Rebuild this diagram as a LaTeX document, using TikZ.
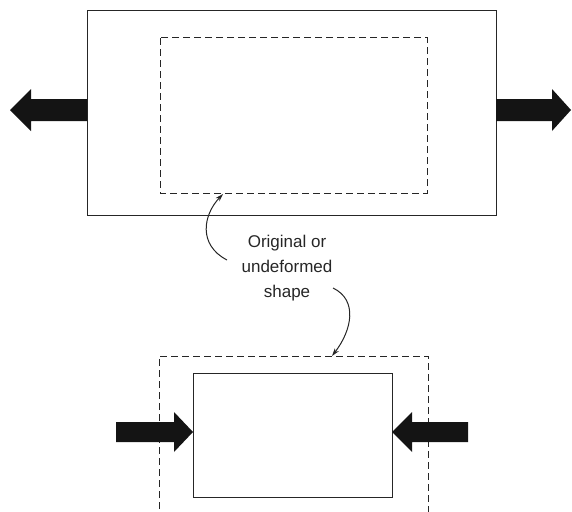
\documentclass[tikz,border=0pt]{standalone}
\usepackage{fontspec}
\setmainfont{Liberation Sans}
\usetikzlibrary{arrows.meta}
\definecolor{inkline}{rgb}{0.15,0.15,0.15}
\definecolor{forcefill}{rgb}{0.08,0.08,0.08}

\begin{document}
\begin{tikzpicture}[x=1pt, y=-1pt,
    body/.style={draw=inkline, line width=1pt},
    outline/.style={draw=inkline, line width=1pt, dash pattern=on 7pt off 4pt},
    force/.style={fill=forcefill},
    pointer/.style={draw=inkline, line width=1pt, -{Stealth[length=8pt, width=5pt]}},
    every node/.style={font=\fontsize{17}{25}\selectfont, text=inkline}]
  \useasboundingbox (0,0) rectangle (572,511);
  % Tension: stretched body over original shape
  \draw[body] (87,11) rectangle (496,215);
  \draw[outline] (160,38) rectangle (427,193);
  \fill[force] (87,99) -- (31,99) -- (31,89) -- (10,110) -- (31,131) -- (31,121) -- (87,121) -- cycle;
  \fill[force] (496,99) -- (552,99) -- (552,89) -- (571,110) -- (552,131) -- (552,121) -- (496,121) -- cycle;
  % Label with pointers to both original shapes
  \node[align=center] (orig) at (287,268) {Original or\\undeformed\\shape};
  \coordinate (upstart) at (227,260);
  \coordinate (uptip) at (223,194);
  \coordinate (downstart) at (333,288);
  \coordinate (downtip) at (332,356);
  \draw[pointer] (upstart) .. controls (198,245) and (203,215) .. (uptip);
  \draw[pointer] (downstart) .. controls (358,300) and (352,330) .. (downtip);
  % Compression: squeezed body inside original shape
  \draw[outline] (159,520) -- (159,356) -- (428,356) -- (428,520);
  \draw[body] (193,373) rectangle (392,497);
  \fill[force] (116,422) -- (174,422) -- (174,412) -- (193,432) -- (174,452) -- (174,442) -- (116,442) -- cycle;
  \fill[force] (468,422) -- (412,422) -- (412,412) -- (392,432) -- (412,452) -- (412,442) -- (468,442) -- cycle;
\end{tikzpicture}
\end{document}
